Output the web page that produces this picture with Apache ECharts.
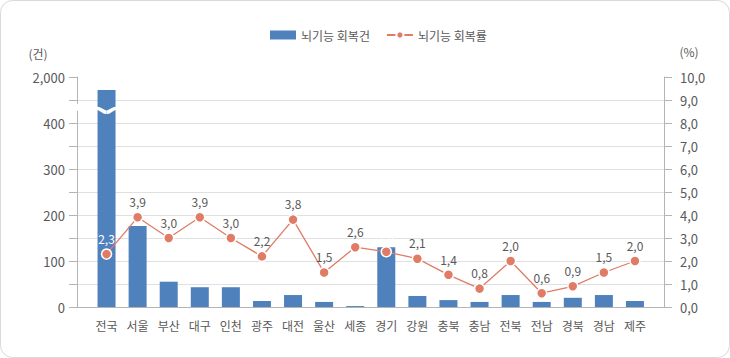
<!DOCTYPE html>
<html><head><meta charset="utf-8">
<script src="https://cdn.jsdelivr.net/npm/echarts@6/dist/echarts.min.js"></script>
<style>html,body{margin:0;padding:0;background:#fff}#c{width:730px;height:358px}</style>
</head><body><div id="c"></div>
<script>
// ---- data ----
const categories = ['전국','서울','부산','대구','인천','광주','대전','울산','세종','경기','강원','충북','충남','전북','전남','경북','경남','제주'];
const cases = [1550, 176, 55, 43, 43, 13, 26, 11, 2, 130, 24, 15, 11, 26, 11, 20, 26, 13];
const rates = [2.3, 3.9, 3.0, 3.9, 3.0, 2.2, 3.8, 1.5, 2.6, 2.4, 2.1, 1.4, 0.8, 2.0, 0.6, 0.9, 1.5, 2.0];
const leftTickLabels = [0, 100, 200, 300, 400, 2000];
const rightTickLabels = [0, 1, 2, 3, 4, 5, 6, 7, 8, 9, 10];
const seriesNames = ['뇌기능 회복건', '뇌기능 회복률'];
const whiteLabelIdx = [0, 9];

// ---- broken left axis: 0..400 linear, 400..2000 compressed into one 100-step ----
const breakFrom = 400, breakTo = 2000, step = 100;
const toDisplay = v => v <= breakFrom ? v : breakFrom + (v - breakFrom) / (breakTo - breakFrom) * step;
const displayMax = breakFrom + step;
const fmtComma = v => v.toFixed(1).replace('.', ',');

const FONT = '"Noto Sans CJK KR", "Noto Sans", sans-serif';
const TXT = '#595959';
const AX = '#b4b4b4';
const GRIDC = '#e0e0e0';
const BAR = '#4f81bd';
const LINE = '#e07b65';
const BAR_W = 18;

const chart = echarts.init(document.getElementById('c'), null, {renderer: 'svg'});

const leftLabelFor = d => {
  if (d % step !== 0) return '';
  const real = d <= breakFrom ? d : breakTo;
  return leftTickLabels.includes(real) ? real.toLocaleString('en-US') : '';
};
const nSplits = displayMax / 50 + 1;
const splitColors = Array.from({length: nSplits}, (_, i) => i === nSplits - 1 ? 'transparent' : GRIDC);

chart.setOption({
  animation: false,
  textStyle: {fontFamily: FONT},
  legend: {
    left: 265, top: 24, itemWidth: 26, itemHeight: 9, itemGap: 16,
    textStyle: {fontSize: 12, color: TXT, fontFamily: FONT},
    data: [{name: seriesNames[0], icon: 'rect'}, {name: seriesNames[1]}]
  },
  grid: [
    {left: 91, right: 79.5, top: 77, bottom: 51},
    {left: 77, right: 66, top: 77, bottom: 51}
  ],
  xAxis: [
    {gridIndex: 0, type: 'category', data: categories, boundaryGap: true,
     axisLine: {show: false}, axisTick: {show: false},
     axisLabel: {color: TXT, fontSize: 12, margin: 12, interval: 0, fontFamily: FONT}},
    {gridIndex: 1, type: 'value', min: 0, max: 1, axisLine: {show: true, lineStyle: {color: AX}},
     axisTick: {show: false}, axisLabel: {show: false}, splitLine: {show: false}}
  ],
  yAxis: [
    {gridIndex: 0, type: 'value', min: 0, max: displayMax, show: false, splitLine: {show: false}},
    {gridIndex: 0, type: 'value', min: 0, max: rightTickLabels[rightTickLabels.length - 1], show: false, splitLine: {show: false}},
    {gridIndex: 1, type: 'value', position: 'left', min: 0, max: displayMax, interval: 50,
     axisLine: {show: true, lineStyle: {color: AX}},
     axisTick: {show: true, length: 8, lineStyle: {color: AX}},
     axisLabel: {color: TXT, fontSize: 13, margin: 12, formatter: leftLabelFor, fontFamily: FONT},
     splitLine: {show: true, lineStyle: {color: splitColors, width: 1}}},
    {gridIndex: 1, type: 'value', position: 'right', min: 0, max: rightTickLabels[rightTickLabels.length - 1], interval: 1,
     axisLine: {show: true, lineStyle: {color: AX}},
     axisTick: {show: true, length: 8, lineStyle: {color: AX}},
     axisLabel: {color: TXT, fontSize: 13, margin: 16, formatter: v => fmtComma(v), fontFamily: FONT},
     splitLine: {show: false}}
  ],
  series: [
    {name: seriesNames[0], type: 'bar', xAxisIndex: 0, yAxisIndex: 0, barWidth: BAR_W,
     itemStyle: {color: BAR}, z: 2,
     data: cases.map(toDisplay)},
    {name: seriesNames[1], type: 'line', xAxisIndex: 0, yAxisIndex: 1, z: 5,
     symbol: 'circle', symbolSize: 10,
     lineStyle: {color: LINE, width: 1.3},
     itemStyle: {color: LINE, borderColor: '#fff', borderWidth: 1.5},
     label: {show: true, position: 'top', distance: 4, fontSize: 12, color: TXT, fontFamily: FONT,
             formatter: p => fmtComma(p.value)},
     data: rates.map((r, i) => whiteLabelIdx.includes(i)
        ? {value: r, label: {color: '#fff'}} : r)}
  ]
});

// frame, unit names and axis-break decoration (wave on broken bar + gap on left axis)
const breakDisplay = breakFrom + step * 0.33;
const graphics = [
  {type: 'rect', shape: {x: 0.5, y: 0.5, width: 729, height: 357, r: 12},
   style: {fill: 'none', stroke: '#d9d9d9', lineWidth: 1}, silent: true, z: 0},
  {type: 'text', style: {text: '(건)', x: 38, y: 53, fill: TXT, fontSize: 12, fontFamily: FONT, align: 'center', verticalAlign: 'middle'}},
  {type: 'text', style: {text: '(%)', x: 689, y: 51, fill: TXT, fontSize: 12, fontFamily: FONT, align: 'center', verticalAlign: 'middle'}}
];
cases.forEach((v, i) => {
  if (v > breakFrom) {
    const p = chart.convertToPixel({xAxisIndex: 0, yAxisIndex: 0}, [i, breakDisplay]);
    const x0 = p[0] - BAR_W / 2 - 1, x1 = p[0] + BAR_W / 2 + 1, y = p[1];
    graphics.push({type: 'bezierCurve', z: 10, silent: true,
      shape: {x1: x0, y1: y + 0.5, cpx1: x0 + 5, cpy1: y + 0.5, cpx2: p[0] - 4, cpy2: y + 4.5, x2: p[0], y2: y + 4.5},
      style: {fill: 'none', stroke: '#fff', lineWidth: 3.5}});
    graphics.push({type: 'bezierCurve', z: 10, silent: true,
      shape: {x1: p[0], y1: y + 4.5, cpx1: p[0] + 4, cpy1: y + 4.5, cpx2: x1 - 5, cpy2: y + 0.5, x2: x1, y2: y + 0.5},
      style: {fill: 'none', stroke: '#fff', lineWidth: 3.5}});
  }
});
const ap = chart.convertToPixel({xAxisIndex: 1, yAxisIndex: 2}, [0, breakDisplay]);
graphics.push({type: 'rect', z: 10, silent: true,
  shape: {x: ap[0] - 2, y: ap[1] - 4, width: 4, height: 7}, style: {fill: '#fff'}});
chart.setOption({graphic: graphics});
</script>
</body></html>
